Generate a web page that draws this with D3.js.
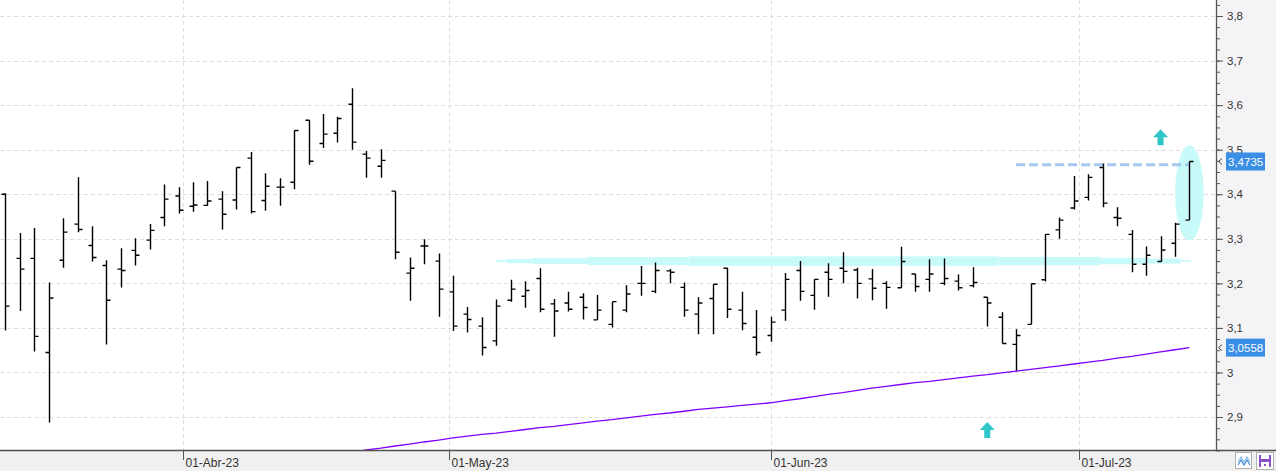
<!DOCTYPE html>
<html>
<head>
<meta charset="utf-8">
<script src="https://cdn.jsdelivr.net/npm/d3@7"></script>
<style>
  html, body { margin: 0; padding: 0; background: #ffffff; }
  svg { display: block; }
  text { font-family: "Liberation Sans", Arial, sans-serif; }
</style>
</head>
<body>
<svg id="chart" width="1276" height="471"></svg>
<script>
// ---------- DATA ----------
const dates = [
  "2023-03-15","2023-03-16","2023-03-17","2023-03-20","2023-03-21","2023-03-22","2023-03-23","2023-03-24",
  "2023-03-27","2023-03-28","2023-03-29","2023-03-30","2023-03-31",
  "2023-04-03","2023-04-04","2023-04-05","2023-04-06","2023-04-11","2023-04-12","2023-04-13","2023-04-14",
  "2023-04-17","2023-04-18","2023-04-19","2023-04-20","2023-04-21","2023-04-24","2023-04-25","2023-04-26",
  "2023-04-27","2023-04-28",
  "2023-05-02","2023-05-03","2023-05-04","2023-05-05","2023-05-08","2023-05-09","2023-05-10","2023-05-11",
  "2023-05-12","2023-05-15","2023-05-16","2023-05-17","2023-05-18","2023-05-19","2023-05-22","2023-05-23",
  "2023-05-24","2023-05-25","2023-05-26","2023-05-29","2023-05-30","2023-05-31",
  "2023-06-01","2023-06-02","2023-06-05","2023-06-06","2023-06-07","2023-06-08","2023-06-09","2023-06-12",
  "2023-06-13","2023-06-14","2023-06-15","2023-06-16","2023-06-19","2023-06-20","2023-06-21","2023-06-22",
  "2023-06-23","2023-06-26","2023-06-27","2023-06-28","2023-06-29","2023-06-30",
  "2023-07-03","2023-07-04","2023-07-05","2023-07-06","2023-07-07","2023-07-10","2023-07-11","2023-07-12"
];
const openV = [3.400,3.256,3.256,3.045,3.252,3.333,3.285,3.240,3.232,3.274,3.297,3.348,3.396,3.373,3.375,3.389,
  3.387,3.481,3.386,3.416,3.427,3.566,3.514,3.537,3.602,3.490,3.463,3.407,3.223,3.284,3.250,3.181,3.131,3.104,
  3.071,3.162,3.171,3.211,3.154,3.156,3.169,3.118,3.108,3.140,3.200,3.182,3.228,3.191,3.131,3.166,3.234,3.140,
  3.079,3.083,3.140,3.229,3.173,3.225,3.234,3.230,3.210,3.200,3.190,3.221,3.209,3.200,3.205,3.195,3.169,3.124,
  3.063,3.108,3.208,3.320,3.369,3.393,3.460,3.348,3.310,3.243,3.249,3.290,3.342];
const highV = [3.402,3.313,3.324,3.202,3.346,3.438,3.328,3.252,3.279,3.301,3.333,3.422,3.416,3.427,3.430,3.407,
  3.460,3.495,3.447,3.436,3.543,3.566,3.580,3.574,3.638,3.497,3.501,3.407,3.258,3.299,3.267,3.217,3.147,3.124,
  3.164,3.208,3.205,3.234,3.165,3.181,3.178,3.174,3.159,3.196,3.239,3.247,3.232,3.202,3.169,3.198,3.235,3.181,
  3.140,3.125,3.223,3.250,3.209,3.245,3.270,3.235,3.232,3.205,3.282,3.221,3.254,3.256,3.220,3.236,3.169,3.135,
  3.097,3.199,3.310,3.348,3.441,3.445,3.469,3.371,3.320,3.283,3.306,3.336,3.4735];
const lowV = [3.094,3.138,3.047,2.888,3.235,3.315,3.249,3.063,3.191,3.240,3.276,3.328,3.357,3.361,3.374,3.321,
  3.366,3.357,3.363,3.374,3.411,3.466,3.504,3.516,3.500,3.437,3.437,3.254,3.161,3.243,3.125,3.093,3.090,3.038,
  3.060,3.159,3.145,3.135,3.080,3.137,3.119,3.118,3.101,3.135,3.172,3.178,3.200,3.125,3.086,3.086,3.122,3.095,
  3.038,3.069,3.116,3.161,3.141,3.170,3.200,3.166,3.162,3.143,3.190,3.181,3.181,3.196,3.184,3.191,3.103,3.065,
  3.003,3.108,3.204,3.300,3.366,3.386,3.371,3.328,3.225,3.217,3.249,3.260,3.342];
const closeV = [3.149,3.232,3.081,3.167,3.315,3.321,3.258,3.162,3.229,3.263,3.319,3.389,3.364,3.376,3.385,3.355,
  3.460,3.361,3.418,3.416,3.543,3.474,3.535,3.570,3.517,3.481,3.476,3.270,3.234,3.284,3.187,3.104,3.119,3.056,
  3.149,3.187,3.184,3.142,3.138,3.142,3.146,3.140,3.159,3.176,3.200,3.229,3.225,3.140,3.156,3.198,3.142,3.110,
  3.045,3.113,3.209,3.182,3.209,3.209,3.227,3.200,3.189,3.191,3.249,3.193,3.221,3.211,3.190,3.202,3.156,3.065,
  3.083,3.199,3.310,3.342,3.385,3.438,3.380,3.346,3.243,3.263,3.275,3.333,3.4735];

// moving average (starts at bar index maStart)
const maStart = 24;
const maV = [2.821,2.826,2.830,2.835,2.839,2.844,2.848,2.853,2.857,2.861,2.864,2.868,2.872,2.876,2.879,2.883,
  2.887,2.891,2.894,2.898,2.902,2.906,2.909,2.913,2.917,2.920,2.923,2.926,2.929,2.932,2.937,2.941,2.946,2.951,
  2.955,2.960,2.965,2.969,2.973,2.977,2.980,2.984,2.988,2.992,2.995,2.999,3.003,3.007,3.011,3.015,3.019,3.023,
  3.027,3.032,3.036,3.041,3.046,3.051,3.0558];

const yTicks = [2.9,3.0,3.1,3.2,3.3,3.4,3.5,3.6,3.7,3.8];
const monthTicks = ["2023-04-01","2023-05-01","2023-06-01","2023-07-01"];
const monthLabels = ["01-Abr-23","01-May-23","01-Jun-23","01-Jul-23"];
const lastLabels = [3.4735, 3.0558];

// annotations
const supportLevel = 3.25;
const bandSegments = [ // [fromIndex, toIndex, half thickness px]
  [34.0,34.75,1],[34.75,36.5,2.2],[36.5,40.3,3],[40.3,47.3,4],[47.3,68.7,4.8],
  [68.7,75.8,4.2],[75.8,79.0,3.2],[79.0,81.4,2.5],[81.4,82.1,0.9]
];
const resistanceLevel = 3.466;
const resistanceFrom = 70, resistanceTo = 82;
const ellipseIdx = 82, ellipseMid = 3.403, ellipseHalf = 0.107;
const arrowsUp = [[80, 3.546],[68, 2.889]];

// ---------- LAYOUT ----------
const W = 1276, H = 471, plotR = 1216, plotB = 450;
const svg = d3.select("#chart");
const parse = d3.timeParse("%Y-%m-%d");
const dts = dates.map(parse);
const x = d3.scaleLinear().domain([-0.367, 83.84]).range([0, plotR]);
const y = d3.scaleLinear().domain([2.826, 3.836]).range([plotB, 0]);
const fmt = v => String(+v.toFixed(4)).replace(".", ",");

// backgrounds
svg.append("rect").attr("x", 0).attr("y", 0).attr("width", W).attr("height", H).attr("fill", "#ffffff");
svg.append("rect").attr("x", plotR).attr("y", 0).attr("width", W - plotR).attr("height", plotB).attr("fill", "#f4f4f6");
svg.append("rect").attr("x", 0).attr("y", plotB).attr("width", W).attr("height", H - plotB).attr("fill", "#f0f0f0");

svg.append("defs").append("clipPath").attr("id", "plotclip")
  .append("rect").attr("x", 0).attr("y", 0).attr("width", plotR).attr("height", plotB);

// fractional index for month ticks
function fracIndex(dstr) {
  const t = parse(dstr);
  const i = d3.bisectRight(dts, t) - 1;
  if (i < 0) return 0;
  if (+dts[i] === +t || i >= dts.length - 1) return i;
  return i + (t - dts[i]) / (dts[i + 1] - dts[i]);
}
const monthIdx = monthTicks.map(fracIndex);

// grid
const grid = svg.append("g").attr("stroke", "#dedede").attr("stroke-dasharray", "4,3").attr("stroke-width", 1);
yTicks.forEach(v => {
  const yy = Math.round(y(v)) + 0.5;
  grid.append("line").attr("x1", 0).attr("x2", plotR).attr("y1", yy).attr("y2", yy);
});
monthIdx.forEach(i => {
  const xx = Math.round(x(i)) + 0.5;
  grid.append("line").attr("x1", xx).attr("x2", xx).attr("y1", 0).attr("y2", plotB);
});

const plot = svg.append("g").attr("clip-path", "url(#plotclip)");

// cyan support band
bandSegments.forEach(s => {
  plot.append("rect")
    .attr("x", x(s[0])).attr("width", x(s[1]) - x(s[0]))
    .attr("y", y(supportLevel) - s[2]).attr("height", 2 * s[2])
    .attr("fill", "#c9fafa");
});
// cyan ellipse
plot.append("ellipse")
  .attr("cx", x(ellipseIdx)).attr("cy", y(ellipseMid))
  .attr("rx", 14.3).attr("ry", y(ellipseMid - ellipseHalf) - y(ellipseMid))
  .attr("fill", "#c9fafa");

// resistance dashed line
plot.append("line")
  .attr("x1", x(resistanceFrom)).attr("x2", x(resistanceTo))
  .attr("y1", y(resistanceLevel)).attr("y2", y(resistanceLevel))
  .attr("stroke", "#a6c8f0").attr("stroke-width", 3).attr("stroke-dasharray", "9,4");

// OHLC bars
const bars = d3.range(dates.length);
plot.append("g").selectAll("path").data(bars).join("path")
  .attr("d", i => {
    const xx = Math.round(x(i)) + 0.5;
    return `M${xx},${y(highV[i])}V${y(lowV[i])}` +
           `M${xx - 4},${y(openV[i])}H${xx}` +
           `M${xx},${y(closeV[i])}H${xx + 4}`;
  })
  .attr("fill", "none").attr("stroke", "#000").attr("stroke-width", 1.4);

// moving average
const maLine = d3.line().x((d, k) => x(maStart + k)).y(d => y(d));
plot.append("path").attr("d", maLine(maV))
  .attr("fill", "none").attr("stroke", "#8000ff").attr("stroke-width", 1.3);

// up arrows
arrowsUp.forEach(a => {
  const cx = x(a[0]), ty = y(a[1]);
  svg.append("path")
    .attr("d", `M${cx},${ty}L${cx + 7.5},${ty + 8}L${cx + 3},${ty + 8}L${cx + 3},${ty + 16}L${cx - 3},${ty + 16}L${cx - 3},${ty + 8}L${cx - 7.5},${ty + 8}Z`)
    .attr("fill", "#2fc7c7");
});

// right axis
const minorTicks = d3.range(2.825, 3.8376, 0.025).map(v => +v.toFixed(3));
svg.append("g").attr("transform", `translate(${plotR},0)`)
  .call(d3.axisRight(y).tickValues(minorTicks).tickSize(4).tickFormat(""))
  .call(g => g.select(".domain").remove())
  .call(g => g.selectAll("line").attr("stroke", "#555"));
svg.append("g").attr("transform", `translate(${plotR},0)`)
  .call(d3.axisRight(y).tickValues(yTicks).tickSize(7).tickPadding(4).tickFormat(v => fmt(v)))
  .call(g => g.select(".domain").remove())
  .call(g => g.selectAll("line").attr("stroke", "#555"))
  .call(g => g.selectAll("text").attr("fill", "#333").style("font-size", "11.5px")
      .style("font-family", '"Liberation Sans", Arial, sans-serif'));
svg.append("line").attr("x1", plotR + 0.5).attr("x2", plotR + 0.5).attr("y1", 0).attr("y2", plotB)
  .attr("stroke", "#555").attr("stroke-width", 1.3);

// last value labels
lastLabels.forEach(v => {
  const yy = y(v);
  svg.append("path").attr("d", `M${plotR + 6},${yy - 3}L${plotR + 2.5},${yy}L${plotR + 6},${yy + 3}`)
    .attr("fill", "none").attr("stroke", "#444").attr("stroke-width", 1);
  svg.append("rect").attr("x", 1226).attr("y", yy - 9).attr("width", 39).attr("height", 18).attr("fill", "#3b8ee6");
  svg.append("text").attr("x", 1228).attr("y", yy).attr("dy", "0.35em")
    .attr("fill", "#fff").style("font-size", "11.5px").text(fmt(v));
});

// bottom axis
svg.append("line").attr("x1", 0).attr("x2", W).attr("y1", plotB + 0.5).attr("y2", plotB + 0.5)
  .attr("stroke", "#505050").attr("stroke-width", 1.5);
const bx = svg.append("g");
monthIdx.forEach((i, k) => {
  const xx = Math.round(x(i)) + 0.5;
  bx.append("line").attr("x1", xx).attr("x2", xx).attr("y1", plotB).attr("y2", plotB + 10)
    .attr("stroke", "#555").attr("stroke-width", 1);
  bx.append("text").attr("x", xx + 2).attr("y", 467).attr("fill", "#333")
    .style("font-size", "12px").text(monthLabels[k]);
});

// bottom right icons
const ic1 = svg.append("g");
ic1.append("rect").attr("x", 1235.5).attr("y", 452.5).attr("width", 16).attr("height", 16)
  .attr("fill", "#fff").attr("stroke", "#b0b0b0");
ic1.append("path").attr("d", "M1238,462L1241,457L1244,462L1247,457L1250,462")
  .attr("fill", "none").attr("stroke", "#8fc4ea").attr("stroke-width", 1.3);
ic1.append("path").attr("d", "M1238,465L1241,460L1244,465L1247,460L1250,465")
  .attr("fill", "none").attr("stroke", "#4a8fd8").attr("stroke-width", 1.3);
const ic2 = svg.append("g");
ic2.append("rect").attr("x", 1256.5).attr("y", 452.5).attr("width", 17).attr("height", 17)
  .attr("fill", "#fff").attr("stroke", "#b0b0b0");
ic2.append("rect").attr("x", 1259).attr("y", 455).attr("width", 12).attr("height", 12).attr("fill", "#8b50c8");
ic2.append("rect").attr("x", 1261).attr("y", 455).attr("width", 8).attr("height", 4).attr("fill", "#fff");
ic2.append("rect").attr("x", 1261).attr("y", 462).attr("width", 8).attr("height", 5).attr("fill", "#fff");
ic2.append("rect").attr("x", 1264).attr("y", 464).attr("width", 2).attr("height", 2).attr("fill", "#8b50c8");
</script>
</body>
</html>
